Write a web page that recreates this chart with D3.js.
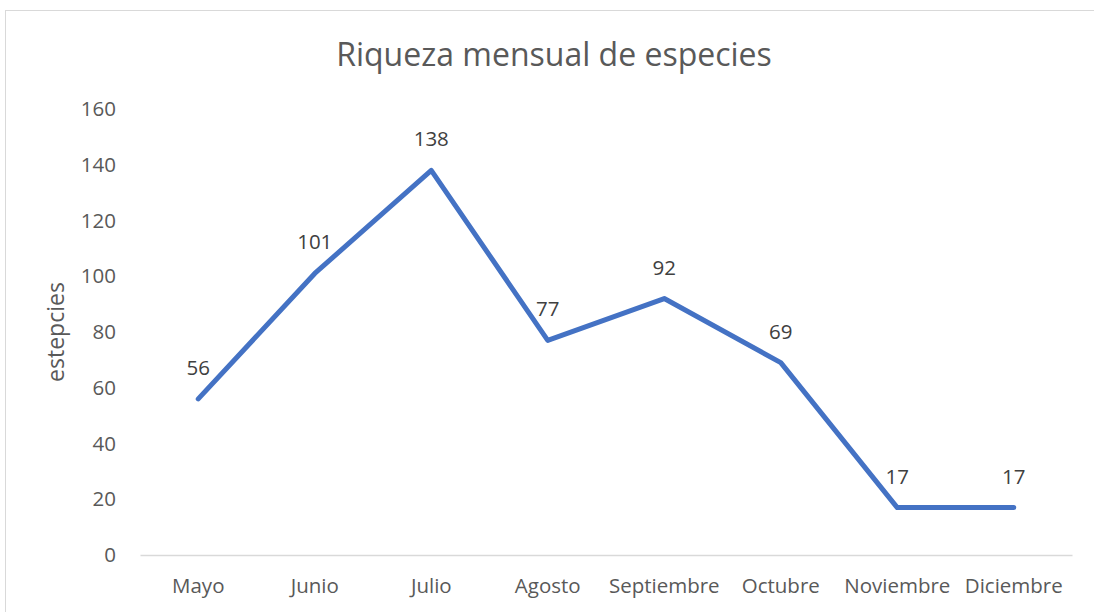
<!DOCTYPE html>
<html><head><meta charset="utf-8">
<script src="https://cdn.jsdelivr.net/npm/d3@7"></script>
<style>html,body{margin:0;padding:0;background:#fff;}svg{display:block;font-family:"Open Sans",sans-serif;}</style>
</head><body>
<svg id="chart" width="1094" height="612"></svg>
<script>
const months = ["Mayo","Junio","Julio","Agosto","Septiembre","Octubre","Noviembre","Diciembre"];
const riqueza = [56,101,138,77,92,69,17,17];
const yTicks = [0,20,40,60,80,100,120,140,160];
const title = "Riqueza mensual de especies";
const yLabel = "estepcies";

(function(){
const svg = d3.select("#chart");
svg.append("rect").attr("x",5.5).attr("y",10.5).attr("width",1100).attr("height",620)
  .attr("fill","#fff").attr("stroke","#d9d9d9").attr("stroke-width",1);

const mLeft=140, mRight=1072, mTop=109, mBottom=555;
const x = d3.scaleBand().domain(months).range([mLeft,mRight]);
const y = d3.scaleLinear().domain([0,160]).range([mBottom,mTop]);

svg.append("text").attr("x",554).attr("y",66).attr("text-anchor","middle")
  .attr("font-size",32).attr("fill","#595959").text(title);

const yAxis = svg.append("g").attr("transform",`translate(${mLeft},0)`)
  .call(d3.axisLeft(y).tickValues(yTicks).tickSize(0).tickPadding(24));
yAxis.select(".domain").remove();
yAxis.selectAll("text").attr("font-size",20.5).attr("fill","#595959").attr("font-family","'Open Sans',sans-serif");

const xAxis = svg.append("g").attr("transform",`translate(0,${mBottom})`)
  .call(d3.axisBottom(x).tickSize(0).tickPadding(23));
xAxis.select(".domain").attr("stroke","#d9d9d9").attr("stroke-width",1.5);
xAxis.selectAll("text").attr("font-size",20.5).attr("fill","#595959").attr("font-family","'Open Sans',sans-serif");

svg.append("text").attr("transform",`translate(64,332) rotate(-90)`)
  .attr("text-anchor","middle").attr("font-size",23).attr("fill","#595959").text(yLabel);

const line = d3.line().x((d,i)=>x(months[i])+x.bandwidth()/2).y(d=>y(d));
svg.append("path").datum(riqueza).attr("d",line).attr("fill","none")
  .attr("stroke","#4472C4").attr("stroke-width",5).attr("stroke-linejoin","round").attr("stroke-linecap","round");

svg.selectAll(".lbl").data(riqueza).enter().append("text").attr("class","lbl")
  .attr("x",(d,i)=>x(months[i])+x.bandwidth()/2).attr("y",d=>y(d)-24)
  .attr("text-anchor","middle").attr("font-size",20.5).attr("fill","#404040").text(d=>d);
})();
</script>
</body></html>
